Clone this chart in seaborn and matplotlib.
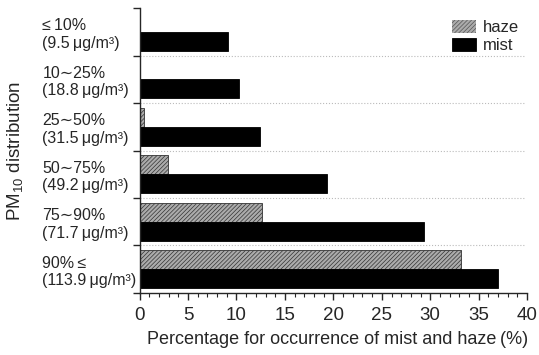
import numpy as np
import pandas as pd
import matplotlib
matplotlib.use("Agg")
import matplotlib.pyplot as plt
from matplotlib.ticker import MultipleLocator
import seaborn as sns

# --- données ---
groups = ["≤\u200910%\n(9.5\u2009μg/m³)", "10∼25%\n(18.8\u2009μg/m³)", "25∼50%\n(31.5\u2009μg/m³)",
          "50∼75%\n(49.2\u2009μg/m³)", "75∼90%\n(71.7\u2009μg/m³)", "90%\u2009≤\n(113.9\u2009μg/m³)"]
haze = [0.0, 0.0, 0.5, 2.9, 12.6, 33.2]
mist = [9.1, 10.3, 12.4, 19.3, 29.4, 37.0]
series = ["haze", "mist"]

df = pd.DataFrame({
    "group": groups * 2,
    "type": ["haze"] * len(groups) + ["mist"] * len(groups),
    "value": haze + mist,
})

sns.set_style("ticks")
plt.rcParams["font.family"] = ["Liberation Sans", "DejaVu Sans"]
plt.rcParams["mathtext.fontset"] = "custom"
plt.rcParams["mathtext.rm"] = "Liberation Sans"
plt.rcParams["mathtext.it"] = "Liberation Sans"
plt.rcParams["hatch.linewidth"] = 0.5

fig = plt.figure(figsize=(5.39, 3.55), dpi=100)
ax = fig.add_axes([0.259, 0.175, 0.719, 0.802])

sns.barplot(data=df, x="value", y="group", hue="type", orient="h",
            palette={"haze": "#ababab", "mist": "black"}, width=0.8,
            edgecolor="black", linewidth=0.6, errorbar=None, ax=ax)

n = len(groups)
for bar in ax.patches[:n]:
    bar.set_hatch("////////")
    bar.set_edgecolor("#333333")

# legende
leg = ax.legend(loc="upper right", frameon=False, fontsize=12,
                handlelength=1.45, handleheight=0.8, handletextpad=0.45,
                labelspacing=0.2, bbox_to_anchor=(1.01, 1.0), borderaxespad=0.3)
h0 = leg.legend_handles[0]
h0.set_hatch("////////")
h0.set_edgecolor("#555555")
h0.set_linewidth(0)

ax.set_xlim(0, 40)
ax.set_ylim(n - 0.5, -0.5)
ax.xaxis.set_major_locator(MultipleLocator(5))
ax.xaxis.set_minor_locator(MultipleLocator(1))
ax.tick_params(axis="x", which="major", length=5, width=1, labelsize=13.5, pad=5)
ax.tick_params(axis="x", which="minor", length=3, width=0.8)

# y : etiquettes au centre des groupes, graduations aux limites
ax.set_yticks(np.arange(n))
ax.set_yticklabels(groups, fontsize=11.5, ha="left", linespacing=1.2)
ax.set_yticks(np.arange(n + 1) - 0.5, minor=True)
ax.tick_params(axis="y", which="major", length=0, pad=70)
ax.tick_params(axis="y", which="minor", length=5, width=1)

for b in np.arange(1, n) - 0.5:
    ax.axhline(b, xmax=0.995, color="#bbbbbb", linestyle=":", linewidth=0.8, zorder=0)

ax.set_xlabel("Percentage for occurrence of mist and haze\u2009(%)", fontsize=13, labelpad=8)
ax.xaxis.set_label_coords(0.51, -0.135)
ax.set_ylabel("PM$_{10}$ distribution", fontsize=13.5)
ax.yaxis.set_label_coords(-0.296, 0.5)

sns.despine(ax=ax)
for s in ["left", "bottom"]:
    ax.spines[s].set_linewidth(1)

fig.savefig("out.png", dpi=100)
